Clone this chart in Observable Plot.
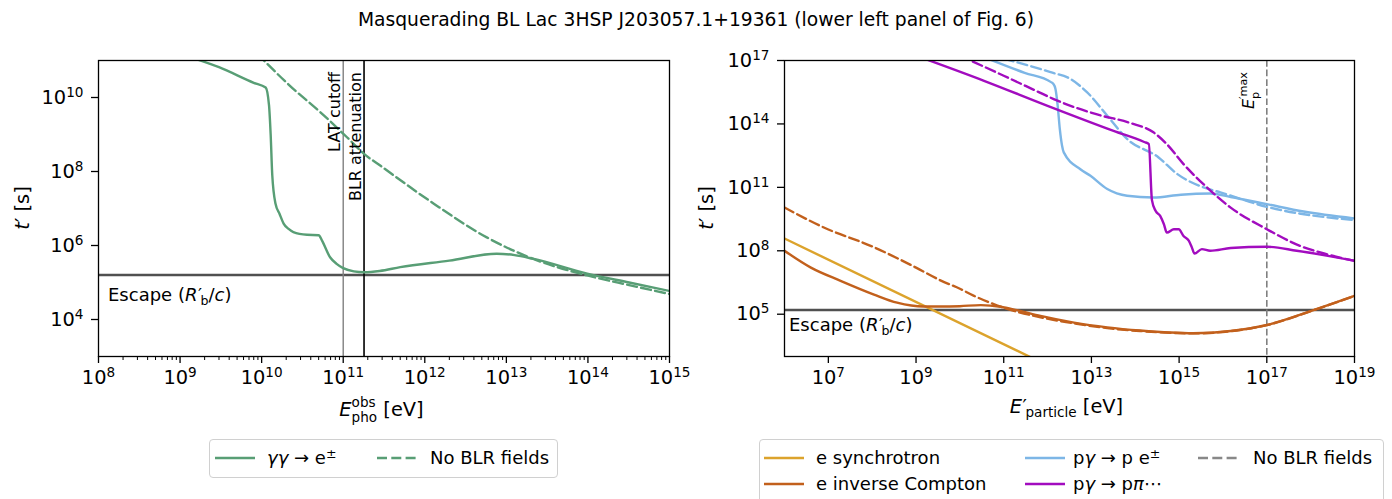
<!DOCTYPE html>
<html>
<head>
<meta charset="utf-8">
<script src="https://cdn.jsdelivr.net/npm/d3@7"></script>
<script src="https://cdn.jsdelivr.net/npm/@observablehq/plot@0.6"></script>
<style>
  body { margin: 0; background: #fff; font-family: "DejaVu Sans", sans-serif; color: #000; }
  #wrap { position: relative; width: 1392px; height: 499px; overflow: hidden; background: #fff; }
  #title { position: absolute; left: 0; top: 10px; width: 1392px; text-align: center; font-size: 18.7px; line-height: 19px; white-space: nowrap; }
  .panel { position: absolute; top: 40px; }
  .legbox { position: absolute; border: 1px solid #d0d0d0; border-radius: 4px; background: #fff; }
  .li { position: absolute; font-size: 18px; line-height: 18px; white-space: nowrap; }
  .sw { position: absolute; width: 40px; height: 6px; }
  sup { font-size: 12.6px; line-height: 0; vertical-align: 0.45em; }
</style>
</head>
<body>
<div id="wrap">
  <div id="title">Masquerading BL Lac 3HSP J203057.1+19361 (lower left panel of Fig. 6)</div>
  <div id="p1" class="panel" style="left:0px"></div>
  <div id="p2" class="panel" style="left:696px"></div>
  <div id="legends"></div>
</div>
<script>
// ---------------- data: left panel (gamma-gamma pair production) ----------------
const leftXTicks = [1e8, 1e9, 1e10, 1e11, 1e12, 1e13, 1e14, 1e15];
const leftYTicks = [1e4, 1e6, 1e8, 1e10];
const escapeTime = 1.6e5;            // R'_b / c  [s]
const latCutoff = 1e11;              // eV
const blrAttenuation = 1.8e11;       // eV

const ggE = [1e9, 3e9, 8e9, 1.12e10, 1.23e10, 1.29e10, 1.35e10, 1.48e10, 1.66e10, 1.86e10, 2.14e10, 2.45e10, 3.6e10, 5.0e10, 5.5e10, 6.9e10, 8.3e10, 1.0e11, 1.35e11, 1.8e11, 2.8e11, 5.0e11, 2.0e12, 7.6e12, 1.26e13, 2.1e13, 9.8e13, 3.2e14, 1e15];
const ggT = [1.5e11, 6.6e10, 2.5e10, 1.86e10, 6.3e9, 1e9, 7.9e7, 1.35e7, 7.1e6, 3.9e6, 2.8e6, 2.3e6, 1.95e6, 1.9e6, 1.35e6, 4.8e5, 3.2e5, 2.45e5, 2.0e5, 1.9e5, 2.05e5, 2.6e5, 3.9e5, 6.0e5, 5.5e5, 4.4e5, 1.74e5, 1.0e5, 5.9e4];
const ggNoBlrE = [8.9e9, 2.24e10, 5.25e10, 1.12e11, 1.8e11, 2.9e11, 1.29e12, 5.75e12, 2.1e13, 9.8e13, 3.2e14, 1e15];
const ggNoBlrT = [1.5e11, 2.04e10, 4.0e9, 8.3e8, 3.0e8, 1.4e8, 1.35e7, 1.66e6, 4.4e5, 1.55e5, 8.5e4, 4.9e4];

// ---------------- data: right panel (particle cooling times) ----------------
const rightXTicks = [1e7, 1e9, 1e11, 1e13, 1e15, 1e17, 1e19];
const rightYTicks = [1e5, 1e8, 1e11, 1e14, 1e17];
const epMax = 1e17;                  // E'_p^max [eV]

const synE = [1e6, 1e12];
const synT = [3.8e8, 3.8e2];

const icE = [1e6, 4e6, 1.9e7, 1.1e8, 3.7e8, 1.5e9, 3.6e9, 1e10, 3e10, 8.5e10, 2e11, 6.9e11, 4e12, 2.3e13, 1.3e14, 2.1e15, 1.5e16, 1e17, 1.26e18, 1e19];
const icT = [1.0e8, 1.6e7, 3.8e6, 8.5e5, 3.5e5, 2.3e5, 2.3e5, 2.4e5, 2.7e5, 2.25e5, 1.55e5, 8.3e4, 4e4, 2.4e4, 1.7e4, 1.26e4, 1.6e4, 3.1e4, 1.66e5, 7.4e5];
const icNoBlrE = [1e6, 7.9e6, 1e8, 1e9, 3.6e9, 1e10, 2.1e10, 5.9e10, 1.7e11, 6.9e11, 4e12, 2.3e13, 1.3e14, 2.1e15, 1.5e16, 1e17, 1.26e18, 1e19];
const icNoBlrT = [1.12e10, 1.26e9, 1.6e8, 1.6e7, 4e6, 1.6e6, 7.4e5, 3.0e5, 1.45e5, 7.2e4, 3.7e4, 2.2e4, 1.6e4, 1.24e4, 1.58e4, 3.05e4, 1.64e5, 7.3e5];

const bhE = [4e10, 3e11, 1.2e12, 1.35e12, 1.51e12, 1.7e12, 1.9e12, 2.14e12, 2.34e12, 5.6e12, 9.5e12, 2.3e13, 6.5e13, 2.6e14, 1.1e15, 5.1e15, 1.5e16, 1e17, 6.9e17, 1e19];
const bhT = [1.3e17, 2.6e16, 9.5e15, 7.9e15, 4.6e15, 7.4e14, 5.8e13, 9.3e12, 4.5e12, 7.2e11, 3.5e11, 8.3e10, 4e10, 3.3e10, 4.5e10, 5.1e10, 3.5e10, 1.6e10, 7.2e9, 3.4e9];
const bhNoBlrE = [1e11, 1.17e12, 3.3e12, 7.9e12, 2.3e13, 6.5e13, 3.4e14, 8.9e14, 3.6e15, 8.7e15, 1e17, 1e19];
const bhNoBlrT = [1.23e17, 2.8e16, 1.35e16, 3.2e15, 2.45e14, 1.95e13, 2.6e12, 4.4e11, 1e11, 5.8e10, 1.2e10, 2.8e9];

const piE = [1e9, 3.55e10, 1e12, 3.2e13, 1.6e14, 2.04e14, 2.4e14, 2.9e14, 3.7e14, 4.5e14, 5.25e14, 7.6e14, 9.8e14, 1.26e15, 1.66e15, 1.95e15, 2.24e15, 3.3e15, 5.1e15, 1.5e16, 1e17, 4.8e17, 2.3e18, 1e19];
const piT = [1.7e17, 1.1e16, 7.2e14, 4.7e13, 1.4e13, 1.12e13, 2.5e10, 7.8e9, 4.5e9, 1.8e9, 7.2e8, 1.05e9, 1.05e9, 5e8, 3e8, 1.45e8, 7.4e7, 1.2e8, 1e8, 1.35e8, 1.55e8, 1e8, 5.9e7, 3.4e7];
const piNoBlrE = [1e10, 1e11, 6.3e11, 1.38e12, 1.35e13, 7.8e13, 2.6e14, 5.25e14, 1.26e15, 4.3e15, 1.5e16, 1e17, 5.75e17, 2.3e18, 1e19];
const piNoBlrT = [1.7e17, 1.9e16, 3.2e15, 1.5e15, 2.8e14, 1.1e14, 4e13, 1.1e13, 1.26e12, 1e11, 1.1e10, 1.05e9, 1.7e8, 6.9e7, 3.3e7];

// ---------------- styles ----------------
const FONT = "DejaVu Sans";
const C = { gg: "#589e75", syn: "#dca32c", ic: "#c2601c", bh: "#7db6e6", pi: "#a20cbf", esc: "#505050", nob: "#888888" };
const DASH = "10,4.3";
const LW = 2.4;
const AX = 19.4;   // axis font size
const CURVE = "monotone-x";

const table = (E, T) => E.map((e, i) => ({ E: e, t: T[i] }));
const sup10 = d => "10^" + Math.round(Math.log10(d));

const minorLeft = [];
for (let k = 8; k < 15; k++) for (let m = 2; m <= 9; m++) minorLeft.push(m * Math.pow(10, k));

const NS = "http://www.w3.org/2000/svg";
function superTicks(svg) {
  svg.querySelectorAll("text").forEach(t => {
    const m = /^10\^(\d+)$/.exec(t.textContent);
    if (!m) return;
    t.textContent = "";
    const a = document.createElementNS(NS, "tspan"); a.textContent = "10"; t.appendChild(a);
    const b = document.createElementNS(NS, "tspan"); b.textContent = m[1];
    b.setAttribute("font-size", (AX * 0.7).toFixed(1)); b.setAttribute("dy", "-7"); t.appendChild(b);
  });
}

// rich text: parts {t, italic, scale, shift(px up), under(bool), dx}
function rich(svg, { x, y, rotate = 0, anchor = "start", size = 18, parts }) {
  const g = d3.select(svg).append("g").attr("transform", `translate(${x},${y}) rotate(${rotate})`);
  const t = g.append("text").attr("text-anchor", anchor).attr("font-family", FONT)
    .attr("font-size", size).attr("fill", "#000");
  let cur = 0, prev = null;
  for (const p of parts) {
    const ts = t.append("tspan").text(p.t);
    if (p.italic) ts.attr("font-style", "italic");
    if (p.scale) ts.attr("font-size", size * p.scale);
    let dx = p.dx || 0;
    if (p.under && prev) dx -= prev.node().getComputedTextLength();
    if (dx) ts.attr("dx", dx);
    const sh = p.shift || 0;
    if (sh !== cur) ts.attr("dy", -(sh - cur));
    cur = sh; prev = ts;
  }
  return g;
}

const baseStyle = { fontFamily: FONT, fontSize: AX + "px", color: "#000", background: "transparent", overflow: "visible" };
const escapeParts = [
  { t: "Escape (" }, { t: "R", italic: true }, { t: "′", dx: 0.5 },
  { t: "b", scale: 0.7, shift: -4, dx: -1.5 }, { t: "/", shift: 0 }, { t: "c", italic: true }, { t: ")" }];

// ---------------- left panel ----------------
const left = Plot.plot({
  width: 696, height: 396, marginLeft: 98, marginRight: 27, marginTop: 20, marginBottom: 80,
  style: baseStyle,
  x: { type: "log", domain: [1e8, 1e15] },
  y: { type: "log", domain: [1e3, 1e11] },
  marks: [
    Plot.axisX({ ticks: minorLeft, tickSize: 4, tickFormat: () => "", label: null, strokeWidth: 1 }),
    Plot.axisX({ ticks: leftXTicks, tickSize: 7, tickPadding: 7, tickFormat: sup10, label: null, strokeWidth: 1.3 }),
    Plot.axisY({ ticks: leftYTicks, tickSize: 7, tickPadding: 8, tickFormat: sup10, label: null, strokeWidth: 1.3 }),
    Plot.ruleY([escapeTime], { stroke: C.esc, strokeWidth: 2.5 }),
    Plot.ruleX([latCutoff], { stroke: "#808080", strokeWidth: 1.4 }),
    Plot.ruleX([blrAttenuation], { stroke: "#000", strokeWidth: 1.6 }),
    Plot.line(table(ggNoBlrE, ggNoBlrT), { x: "E", y: "t", stroke: C.gg, strokeWidth: LW, strokeDasharray: DASH, curve: CURVE, clip: true }),
    Plot.line(table(ggE, ggT), { x: "E", y: "t", stroke: C.gg, strokeWidth: LW, curve: CURVE, clip: true }),
    Plot.frame({ stroke: "#000", strokeWidth: 1.3 })
  ]
});
document.getElementById("p1").appendChild(left);
superTicks(left);
{
  const ys = left.scale("y"), xs = left.scale("x");
  rich(left, { x: xs.apply(latCutoff) - 2.5, y: 32, rotate: -90, anchor: "end", size: 16, parts: [{ t: "LAT cutoff" }] });
  rich(left, { x: xs.apply(blrAttenuation) - 2.5, y: 32, rotate: -90, anchor: "end", size: 16, parts: [{ t: "BLR attenuation" }] });
  rich(left, { x: 108, y: ys.apply(escapeTime) + 26.3, parts: escapeParts });
  rich(left, { x: 29.4, y: 168, rotate: -90, anchor: "middle", size: AX, parts: [
    { t: "t", italic: true }, { t: "′" }, { t: " [s]" }] });
  rich(left, { x: 381.5, y: 376, anchor: "middle", size: AX, parts: [
    { t: "E", italic: true }, { t: "obs", scale: 0.7, shift: 9.5 }, { t: "pho", scale: 0.7, shift: -6.3, under: true }, { t: " [eV]", shift: 0 }] });
}

// ---------------- right panel ----------------
const right = Plot.plot({
  width: 696, height: 396, marginLeft: 88, marginRight: 38, marginTop: 20, marginBottom: 80,
  style: baseStyle,
  x: { type: "log", domain: [1e6, 1e19] },
  y: { type: "log", domain: [1e3, 1e17] },
  marks: [
    Plot.axisX({ ticks: rightXTicks, tickSize: 7, tickPadding: 7, tickFormat: sup10, label: null, strokeWidth: 1.3 }),
    Plot.axisY({ ticks: rightYTicks, tickSize: 7, tickPadding: 8, tickFormat: sup10, label: null, strokeWidth: 1.3 }),
    Plot.ruleY([escapeTime], { stroke: C.esc, strokeWidth: 2.5 }),
    Plot.ruleX([epMax], { stroke: "#808080", strokeWidth: 1.6, strokeDasharray: "6.7,2.9" }),
    Plot.line(table(synE, synT), { x: "E", y: "t", stroke: C.syn, strokeWidth: LW, clip: true }),
    Plot.line(table(icNoBlrE, icNoBlrT), { x: "E", y: "t", stroke: C.ic, strokeWidth: LW, strokeDasharray: DASH, curve: CURVE, clip: true }),
    Plot.line(table(icE, icT), { x: "E", y: "t", stroke: C.ic, strokeWidth: LW, curve: CURVE, clip: true }),
    Plot.line(table(bhNoBlrE, bhNoBlrT), { x: "E", y: "t", stroke: C.bh, strokeWidth: LW, strokeDasharray: DASH, curve: CURVE, clip: true }),
    Plot.line(table(bhE, bhT), { x: "E", y: "t", stroke: C.bh, strokeWidth: LW, curve: CURVE, clip: true }),
    Plot.line(table(piNoBlrE, piNoBlrT), { x: "E", y: "t", stroke: C.pi, strokeWidth: LW, strokeDasharray: DASH, curve: CURVE, clip: true }),
    Plot.line(table(piE, piT), { x: "E", y: "t", stroke: C.pi, strokeWidth: LW, curve: CURVE, clip: true }),
    Plot.frame({ stroke: "#000", strokeWidth: 1.3 })
  ]
});
document.getElementById("p2").appendChild(right);
superTicks(right);
{
  const ys = right.scale("y"), xs = right.scale("x");
  rich(right, { x: 93, y: ys.apply(escapeTime) + 21.7, parts: escapeParts });
  rich(right, { x: 16.5, y: 168, rotate: -90, anchor: "middle", size: AX, parts: [
    { t: "t", italic: true }, { t: "′" }, { t: " [s]" }] });
  rich(right, { x: 370.5, y: 372.7, anchor: "middle", size: AX, parts: [
    { t: "E", italic: true }, { t: "′", dx: 0.5 }, { t: "particle", scale: 0.7, shift: -4.5, dx: -1.5 }, { t: " [eV]", shift: 0 }] });
  rich(right, { x: xs.apply(epMax) - 12, y: 32, rotate: -90, anchor: "end", size: 16, parts: [
    { t: "E", italic: true }, { t: "′max", scale: 0.7, shift: 7.5 }, { t: "p", scale: 0.7, shift: -5, under: true }] });
}

// ---------------- legends (HTML) ----------------
const legendLeft = [
  { html: '<i>γγ</i> → e<sup>±</sup>', color: C.gg, dash: null, sx: 215, tx: 267, y: 458 },
  { html: 'No BLR fields', color: C.gg, dash: DASH, sx: 377, tx: 430, y: 458 }
];
const legendRight = [
  { html: 'e synchrotron', color: C.syn, dash: null, sx: 764, tx: 816, y: 458 },
  { html: 'e inverse Compton', color: C.ic, dash: null, sx: 764, tx: 816, y: 484 },
  { html: 'p<i>γ</i> → p e<sup>±</sup>', color: C.bh, dash: null, sx: 1025, tx: 1073, y: 458 },
  { html: 'p<i>γ</i> → p<i>π</i>⋯', color: C.pi, dash: null, sx: 1025, tx: 1073, y: 484 },
  { html: 'No BLR fields', color: C.nob, dash: DASH, sx: 1198, tx: 1253, y: 458 }
];
const L = document.getElementById("legends");
function box(x, y, w, h) {
  const d = document.createElement("div"); d.className = "legbox";
  Object.assign(d.style, { left: x + "px", top: y + "px", width: w + "px", height: h + "px" });
  L.appendChild(d);
}
box(209, 439, 347, 37);
box(759, 439, 623, 80);
for (const it of [...legendLeft, ...legendRight]) {
  const s = document.createElementNS(NS, "svg"); s.setAttribute("class", "sw");
  s.style.left = it.sx + "px"; s.style.top = (it.y - 3) + "px";
  const ln = document.createElementNS(NS, "line");
  ln.setAttribute("x1", 0); ln.setAttribute("x2", 40); ln.setAttribute("y1", 3); ln.setAttribute("y2", 3);
  ln.setAttribute("stroke", it.color); ln.setAttribute("stroke-width", LW);
  if (it.dash) ln.setAttribute("stroke-dasharray", it.dash);
  s.appendChild(ln); L.appendChild(s);
  const t = document.createElement("div"); t.className = "li"; t.innerHTML = it.html;
  t.style.left = it.tx + "px"; t.style.top = (it.y - 8.6) + "px";
  L.appendChild(t);
}
</script>
</body>
</html>
